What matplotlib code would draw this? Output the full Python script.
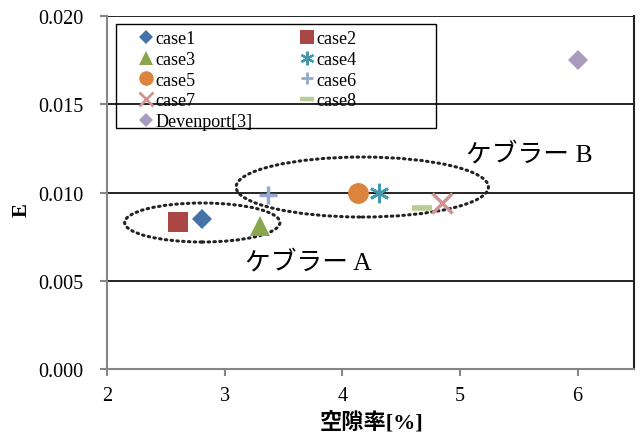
import matplotlib
matplotlib.use("Agg")
import matplotlib.pyplot as plt
from matplotlib.patches import Ellipse, Rectangle
from matplotlib.lines import Line2D

# ---- data ----
labels = ["case1", "case2", "case3", "case4", "case5", "case6", "case7", "case8", "Devenport[3]"]
void_ratio = [2.81, 2.60, 3.30, 4.31, 4.13, 3.37, 4.85, 4.68, 6.00]
E_values = [0.00850, 0.00835, 0.00812, 0.00995, 0.00998, 0.00985, 0.00938, 0.00912, 0.01752]
xticks = [2, 3, 4, 5, 6]
yticks = [0.000, 0.005, 0.010, 0.015, 0.020]

colors = ["#4572A7", "#AA4643", "#89A54E", "#4198AF", "#DB843D",
          "#93A9CF", "#D19392", "#B9CD96", "#A99BBD"]
markers = ["D", "s", "^", (6, 2, 0), "o", "+", "x", "_", "D"]
msizes = [10, 14, 15, 14, 15, 13, 14, 14, 10]
mews = [0, 0, 0, 2.0, 0, 2.5, 2.5, 4.0, 0]

serif = ["Liberation Serif", "Noto Sans CJK JP", "DejaVu Sans"]
plt.rcParams["font.family"] = serif

fig = plt.figure(figsize=(6.41, 4.39), dpi=100)
ax = fig.add_axes([107/641, 1-370/439, 527/641, 353/439])

for i in range(len(labels)):
    m = markers[i]
    filled = m in ("D", "s", "^", "o")
    ax.plot([void_ratio[i]], [E_values[i]], linestyle="none", marker=m,
            markersize=msizes[i], color=colors[i],
            markeredgewidth=mews[i] if not filled else 0, zorder=5)

ax.set_xlim(2, 6.48)
ax.set_ylim(0, 0.020)
ax.set_xticks(xticks)
ax.set_yticks(yticks)
ax.set_xticklabels([str(t) for t in xticks], fontsize=14.5)
ax.set_yticklabels([f"{t:.3f}" for t in yticks], fontsize=14.5)

for yv in yticks[1:]:
    ax.axhline(yv, color="black", linewidth=1.2, zorder=1)

for s in ["left", "bottom"]:
    ax.spines[s].set_color("#868686")
    ax.spines[s].set_linewidth(1.5)
ax.spines["top"].set_visible(False)
ax.spines["right"].set_color("#222222")
ax.spines["right"].set_linewidth(1.5)
ax.tick_params(axis="both", direction="out", color="#868686", width=1.5, length=5)
ax.tick_params(axis="y", pad=12)
ax.tick_params(axis="x", pad=7)

ax.set_xlabel("空隙率[%]", fontsize=16, fontweight="bold")
ax.set_ylabel("E", fontsize=15, fontweight="bold")
ax.xaxis.set_label_coords((372-107)/527, -(423-370)/353)
ax.xaxis.label.set_va("center")
ax.yaxis.set_label_coords(-(107-22)/527, (370-210)/353)
ax.yaxis.label.set_va("center")

# ellipses and annotations
ax.add_patch(Ellipse((2.81, 0.0083), 1.32, 0.00221, fill=False, edgecolor="#222222",
                     linestyle=(0, (0.5, 1.4)), linewidth=2.2, capstyle="round", zorder=4))
ax.add_patch(Ellipse((4.17, 0.01031), 2.145, 0.0034, fill=False, edgecolor="#222222",
                     linestyle=(0, (0.5, 1.4)), linewidth=2.2, capstyle="round", zorder=4))
ax.text(5.05, 0.01218, "ケブラー B", fontsize=18.5, va="center", ha="left")
ax.text(3.17, 0.00606, "ケブラー A", fontsize=18.5, va="center", ha="left")

# legend (row-major order: matplotlib fills columns first)
order = [0, 2, 4, 6, 8, 1, 3, 5, 7]
handles = []
for i in order:
    m = markers[i]
    filled = m in ("D", "s", "^", "o")
    handles.append(Line2D([], [], linestyle="none", marker=m, color=colors[i],
                          markersize=msizes[i]*0.7,
                          markeredgewidth=(mews[i]*0.8 if not filled else 0)))
leg = ax.legend(handles, [labels[i] for i in order], ncol=2, loc="upper left",
                bbox_to_anchor=(0.032, 1.0), frameon=False, fontsize=13,
                handlelength=0.8, handletextpad=0.15, columnspacing=2.6,
                labelspacing=0.2, borderpad=0.3)
ax.add_patch(Rectangle((9/527, 1-(129-17)/353), 320/527, (129-25)/353,
                       transform=ax.transAxes, fill=False, edgecolor="black",
                       linewidth=1.0, zorder=6))

fig.savefig("out.png", dpi=100)
